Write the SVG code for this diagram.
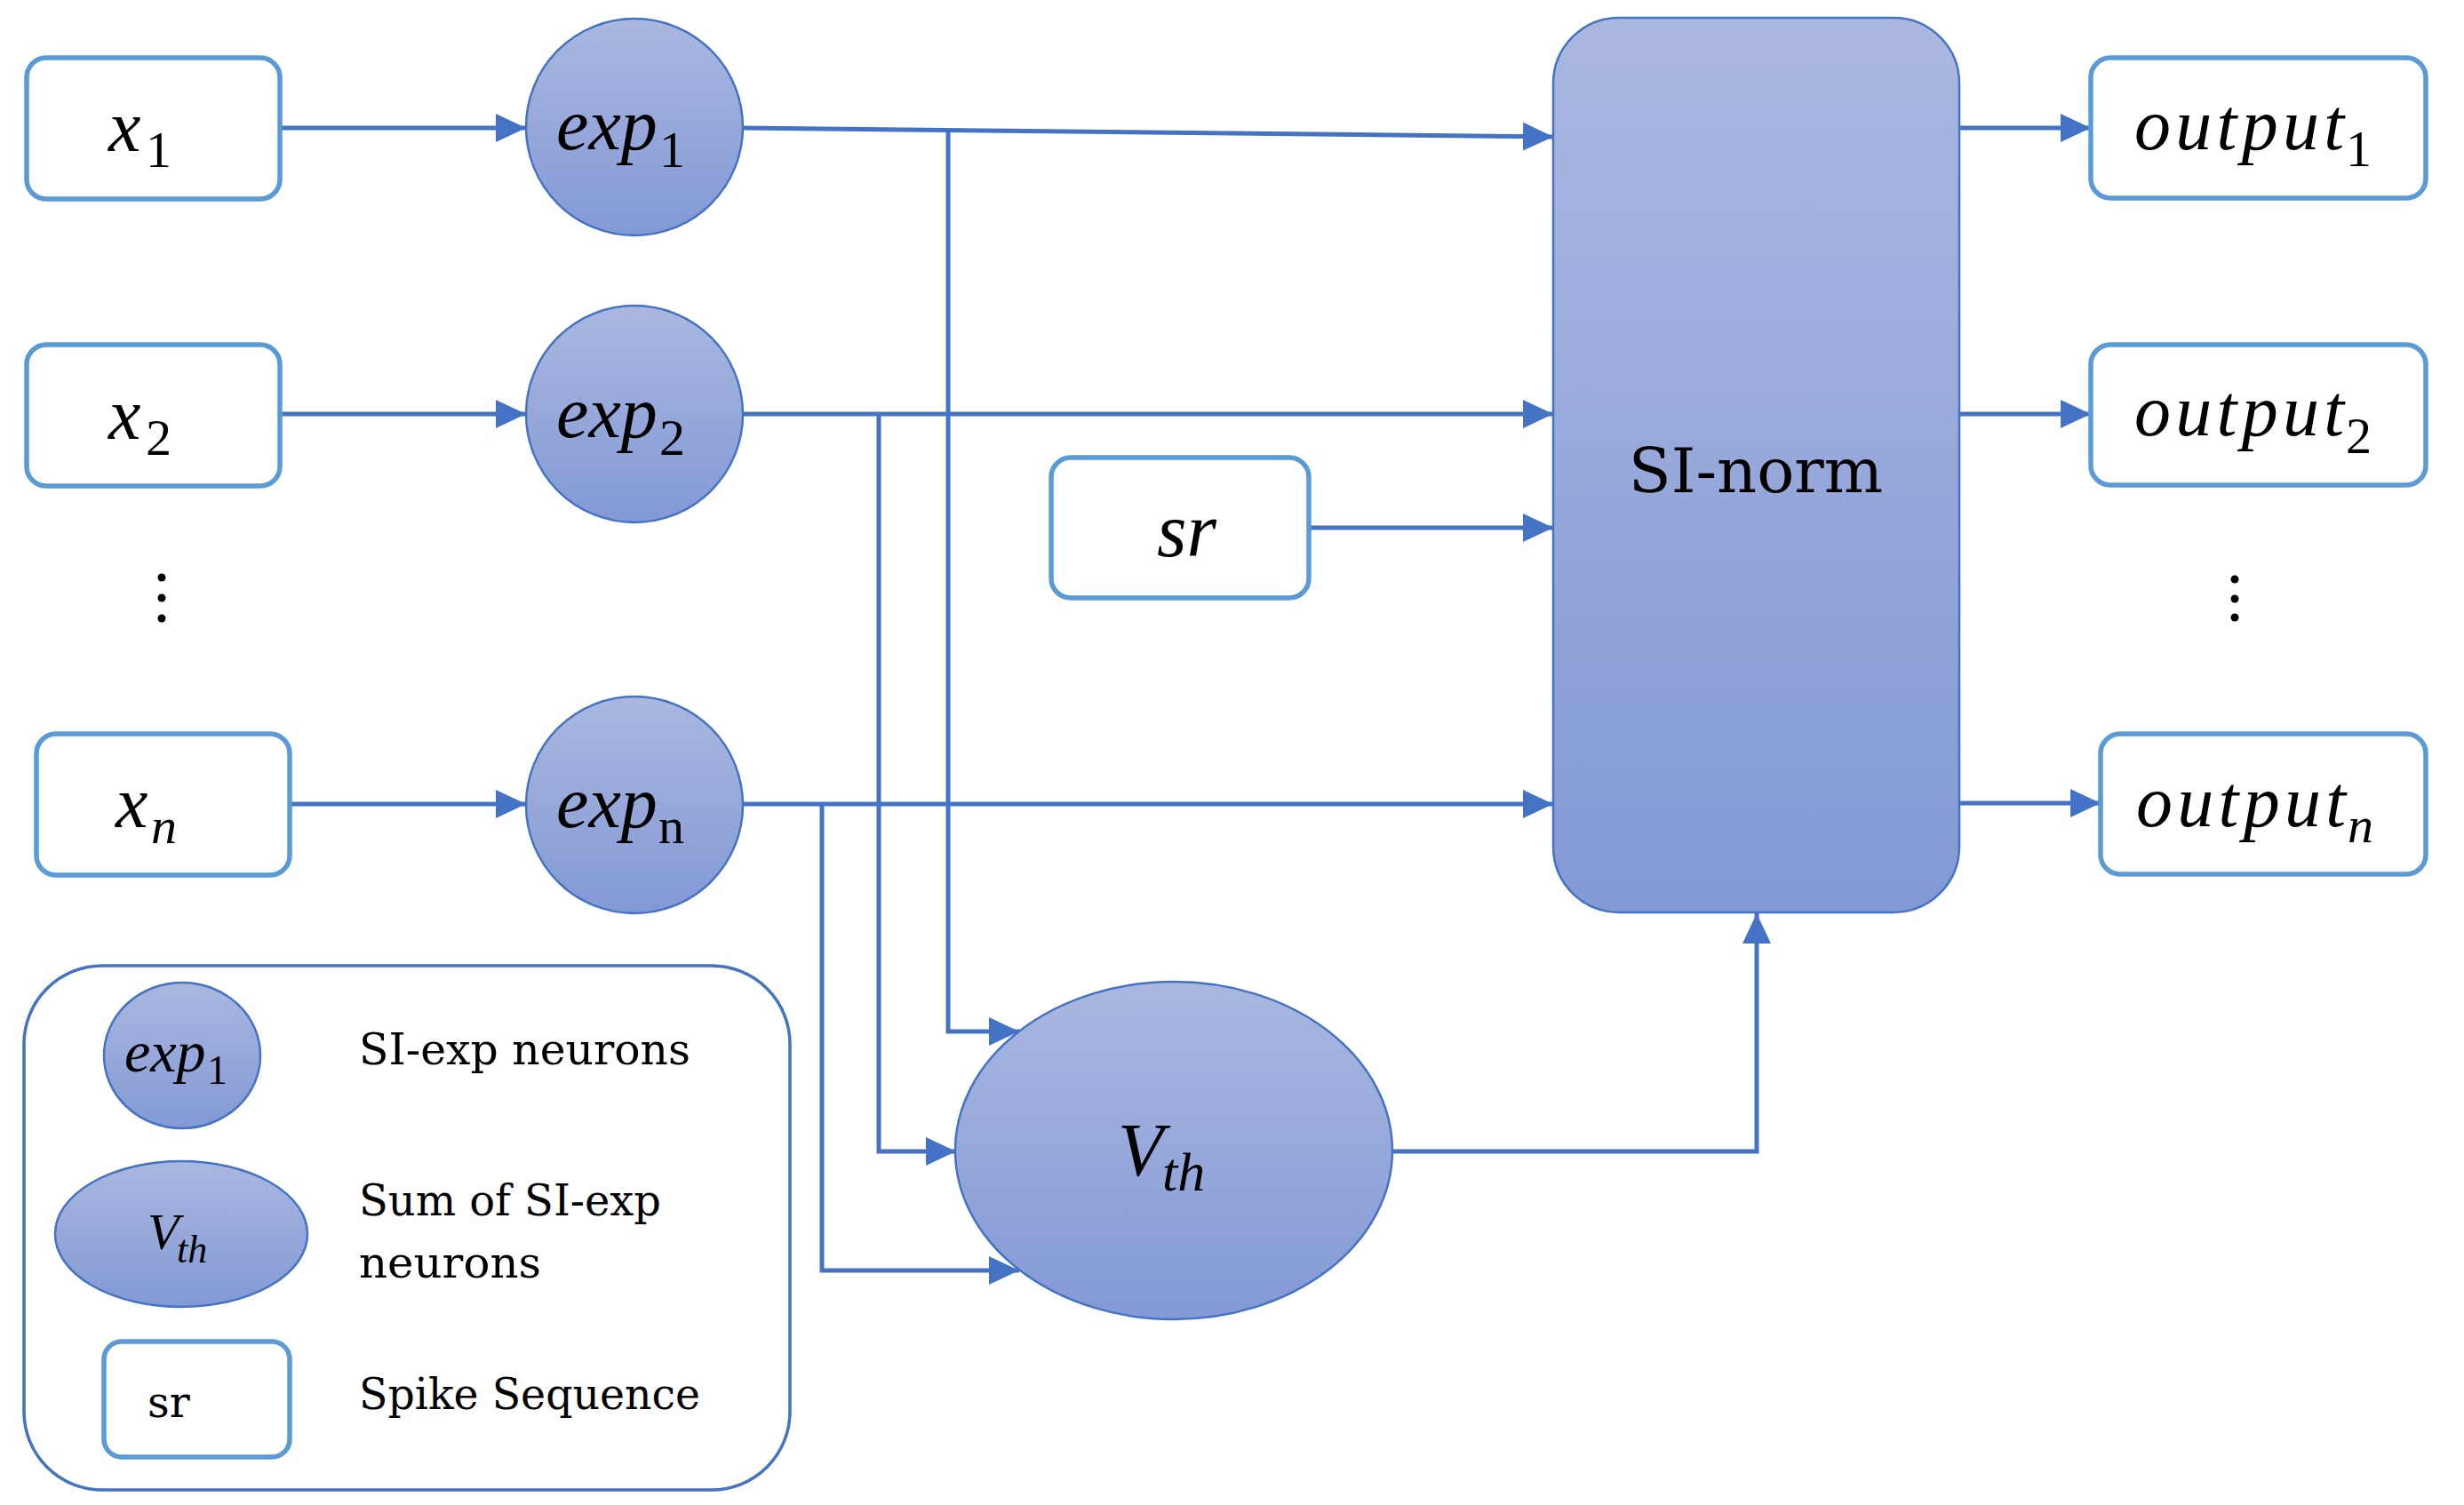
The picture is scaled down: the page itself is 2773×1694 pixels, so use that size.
<svg xmlns="http://www.w3.org/2000/svg" width="2773" height="1694" viewBox="0 0 2773 1694">
<defs>
<linearGradient id="g" x1="0" y1="0" x2="0" y2="1">
<stop offset="0" stop-color="#AAB8E0"/>
<stop offset="1" stop-color="#8399D5"/>
</linearGradient>
<marker id="ah" markerUnits="userSpaceOnUse" markerWidth="36" markerHeight="34" refX="34" refY="16" orient="auto">
<path d="M0,0 L34,16 L0,32 z" fill="#4472C4"/>
</marker>
<style>
.box{fill:#fff;stroke:#5B9BD5;stroke-width:5.5}
.neu{fill:url(#g);stroke:#4472C4;stroke-width:2.5}
.arr{fill:none;stroke:#4472C4;stroke-width:5;marker-end:url(#ah)}
.mi{font-family:"Liberation Serif",serif;font-style:italic;fill:#000}
.mu{font-family:"Liberation Serif",serif;fill:#000}
.tx{font-family:"DejaVu Serif",serif;fill:#000}
.dot{fill:#000}
</style>
</defs>
<rect width="2773" height="1694" fill="#fff"/>

<g id="connectors">
<line class="arr" x1="315" y1="144" x2="592" y2="144"/>
<line class="arr" x1="315" y1="466" x2="592" y2="466"/>
<line class="arr" x1="326" y1="905" x2="592" y2="905"/>
<line class="arr" x1="836" y1="144" x2="1748" y2="154"/>
<line class="arr" x1="836" y1="466" x2="1748" y2="466"/>
<line class="arr" x1="836" y1="905" x2="1748" y2="905"/>
<line class="arr" x1="1474" y1="594" x2="1748" y2="594"/>
<polyline class="arr" points="1067,146 1067,1161 1147,1161"/>
<polyline class="arr" points="989,466 989,1296 1076,1296"/>
<polyline class="arr" points="925,905 925,1430 1147,1430"/>
<polyline class="arr" points="1568,1296 1977,1296 1977,1028"/>
<line class="arr" x1="2205" y1="144" x2="2353" y2="144"/>
<line class="arr" x1="2205" y1="466" x2="2353" y2="466"/>
<line class="arr" x1="2205" y1="904" x2="2364" y2="904"/>
</g>

<g id="x1">
<rect class="box" x="30" y="65" width="285" height="159" rx="22"/>
<text class="mi" x="122" y="170" font-size="82">x</text>
<text class="mu" x="164" y="188" font-size="58">1</text>
</g>
<g id="x2">
<rect class="box" x="30" y="388" width="285" height="159" rx="22"/>
<text class="mi" x="122" y="494" font-size="82">x</text>
<text class="mu" x="164" y="512" font-size="58">2</text>
</g>
<g id="xn">
<rect class="box" x="41" y="826" width="285" height="159" rx="22"/>
<text class="mi" x="130" y="931" font-size="82">x</text>
<text class="mi" x="170" y="949" font-size="58">n</text>
</g>

<g id="dots-left">
<circle class="dot" cx="182" cy="650" r="4.5"/>
<circle class="dot" cx="182" cy="673" r="4.5"/>
<circle class="dot" cx="182" cy="696" r="4.5"/>
</g>

<g id="exp1">
<circle class="neu" cx="714" cy="143" r="122"/>
<text class="mi" x="626" y="168" font-size="82">exp</text>
<text class="mu" x="742" y="188" font-size="58">1</text>
</g>
<g id="exp2">
<circle class="neu" cx="714" cy="466" r="122"/>
<text class="mi" x="626" y="492" font-size="82">exp</text>
<text class="mu" x="742" y="512" font-size="58">2</text>
</g>
<g id="expn">
<circle class="neu" cx="714" cy="906" r="122"/>
<text class="mi" x="626" y="931" font-size="82">exp</text>
<text class="mu" x="741" y="949" font-size="58">n</text>
</g>

<g id="sr">
<rect class="box" x="1183" y="515" width="290" height="158" rx="22"/>
<text class="mi" x="1302" y="626" font-size="86">sr</text>
</g>

<g id="vth">
<ellipse class="neu" cx="1321" cy="1295" rx="246" ry="190"/>
<text class="mi" x="1258" y="1323" font-size="84">V</text>
<text class="mi" x="1308" y="1340" font-size="62">th</text>
</g>

<g id="si-norm">
<rect x="1748" y="20" width="457" height="1007" rx="74" fill="url(#g)" stroke="#4472C4" stroke-width="2.5"/>
<text class="tx" x="1976" y="554" font-size="70" text-anchor="middle">SI-norm</text>
</g>

<g id="output1">
<rect class="box" x="2353" y="65" width="377" height="158" rx="22"/>
<text class="mi" x="2402" y="168" font-size="82" textLength="236" lengthAdjust="spacing">output</text>
<text class="mu" x="2640" y="187" font-size="58">1</text>
</g>
<g id="output2">
<rect class="box" x="2353" y="388" width="377" height="158" rx="22"/>
<text class="mi" x="2402" y="490" font-size="82" textLength="236" lengthAdjust="spacing">output</text>
<text class="mu" x="2640" y="510" font-size="58">2</text>
</g>
<g id="outputn">
<rect class="box" x="2364" y="826" width="366" height="158" rx="22"/>
<text class="mi" x="2404" y="930" font-size="82" textLength="236" lengthAdjust="spacing">output</text>
<text class="mi" x="2642" y="948" font-size="58">n</text>
</g>

<g id="dots-right">
<circle class="dot" cx="2515" cy="652" r="4.5"/>
<circle class="dot" cx="2515" cy="674" r="4.5"/>
<circle class="dot" cx="2515" cy="695" r="4.5"/>
</g>

<g id="legend">
<rect x="27" y="1087" width="862" height="590" rx="88" fill="#fff" stroke="#4472C4" stroke-width="3.5"/>
<ellipse class="neu" cx="205" cy="1188" rx="88" ry="82"/>
<text class="mi" x="140" y="1206" font-size="66">exp</text>
<text class="mu" x="233" y="1220" font-size="46">1</text>
<ellipse class="neu" cx="204" cy="1389" rx="142" ry="82"/>
<text class="mi" x="166" y="1406" font-size="58">V</text>
<text class="mi" x="199" y="1421" font-size="44">th</text>
<rect class="box" x="117" y="1510" width="209" height="130" rx="20"/>
<text class="tx" x="166" y="1595" font-size="48">sr</text>
<text class="tx" x="404" y="1198" font-size="48" textLength="373" lengthAdjust="spacingAndGlyphs">SI-exp neurons</text>
<text class="tx" x="404" y="1368" font-size="48" textLength="340" lengthAdjust="spacingAndGlyphs">Sum of SI-exp</text>
<text class="tx" x="404" y="1438" font-size="48" textLength="205" lengthAdjust="spacingAndGlyphs">neurons</text>
<text class="tx" x="404" y="1586" font-size="48" textLength="384" lengthAdjust="spacingAndGlyphs">Spike Sequence</text>
</g>
</svg>
